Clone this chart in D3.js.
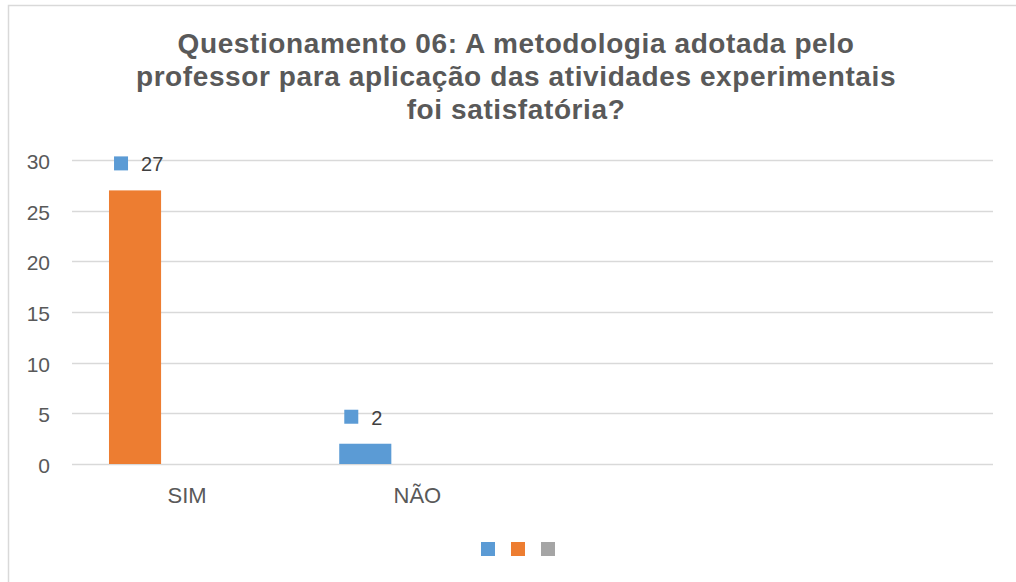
<!DOCTYPE html>
<html>
<head>
<meta charset="utf-8">
<script src="https://cdn.jsdelivr.net/npm/d3@7"></script>
<style>
  body { margin: 0; background: #fff; }
  text { font-family: "Liberation Sans", Arial, sans-serif; }
</style>
</head>
<body>
<svg id="chart" width="1016" height="582"></svg>
<script>
// data
const categories = ["SIM", "NÃO", "", ""];
const values = [27, 2, null, null];
const barColors = ["#ed7d31", "#5b9bd5", "#a5a5a5", "#a5a5a5"];
const legendColors = ["#5b9bd5", "#ed7d31", "#a5a5a5"];
const yTicks = [0, 5, 10, 15, 20, 25, 30];
const titleLines = [
  "Questionamento 06: A metodologia adotada pelo",
  "professor para aplicação das atividades experimentais",
  "foi satisfatória?"
];

const svg = d3.select("#chart");
const W = 1016, H = 582;
const margin = { left: 72, right: 23, top: 160, bottom: 118 };

// chart frame
svg.append("rect")
  .attr("x", 8.5).attr("y", 5.5)
  .attr("width", W + 20).attr("height", H + 20)
  .attr("fill", "#fff")
  .attr("stroke", "#d9d9d9")
  .attr("stroke-width", 1.5);

// title
svg.append("g")
  .selectAll("text")
  .data(titleLines)
  .join("text")
  .attr("x", 516)
  .attr("y", (d, i) => 53 + i * 33)
  .attr("text-anchor", "middle")
  .attr("font-size", "28px")
  .attr("letter-spacing", "0.6px")
  .attr("font-weight", "bold")
  .attr("fill", "#595959")
  .text(d => d);

const x = d3.scaleBand()
  .domain(d3.range(categories.length))
  .range([margin.left, W - margin.right]);

const y = d3.scaleLinear()
  .domain([0, 30])
  .range([H - margin.bottom, margin.top]);

// bars sit in the first of three cluster slots
const slot = d3.scaleBand()
  .domain([0, 1, 2])
  .range([0, x.bandwidth()])
  .paddingOuter(0.71)
  .paddingInner(0);

// gridlines
svg.append("g")
  .selectAll("line")
  .data(yTicks)
  .join("line")
  .attr("x1", margin.left)
  .attr("x2", W - margin.right)
  .attr("y1", d => Math.round(y(d)) + 0.5)
  .attr("y2", d => Math.round(y(d)) + 0.5)
  .attr("stroke", "#d9d9d9")
  .attr("stroke-width", 1.5);

// y tick labels
svg.append("g")
  .selectAll("text")
  .data(yTicks)
  .join("text")
  .attr("x", 50)
  .attr("y", d => y(d) + 9)
  .attr("text-anchor", "end")
  .attr("font-size", "21px")
  .attr("fill", "#595959")
  .text(d => d);

// category labels
svg.append("g")
  .selectAll("text")
  .data(categories)
  .join("text")
  .attr("x", (d, i) => x(i) + x.bandwidth() / 2)
  .attr("y", 503)
  .attr("text-anchor", "middle")
  .attr("font-size", "22px")
  .attr("fill", "#595959")
  .text(d => d);

const barData = values
  .map((v, i) => ({ i, v, cat: categories[i], color: barColors[i] }))
  .filter(d => d.v != null);

// bars
svg.append("g")
  .selectAll("rect")
  .data(barData)
  .join("rect")
  .attr("x", d => x(d.i) + slot(0))
  .attr("y", d => y(d.v))
  .attr("width", slot.bandwidth())
  .attr("height", d => y(0) - y(d.v))
  .attr("fill", d => d.color);

// data labels with legend key
const lab = svg.append("g")
  .selectAll("g")
  .data(barData)
  .join("g")
  .attr("transform", d => `translate(${x(d.i) + slot(0) + slot.bandwidth() / 2},${y(d.v) - 27})`);

lab.append("rect")
  .attr("x", -21).attr("y", -7)
  .attr("width", 14).attr("height", 14)
  .attr("fill", legendColors[0]);

lab.append("text")
  .attr("x", 6)
  .attr("y", 8)
  .attr("font-size", "20px")
  .attr("fill", "#404040")
  .text(d => d.v);

// legend (keys only)
svg.append("g")
  .selectAll("rect")
  .data(legendColors)
  .join("rect")
  .attr("x", (d, i) => 481 + i * 30)
  .attr("y", 542)
  .attr("width", 14)
  .attr("height", 14)
  .attr("fill", d => d);
</script>
</body>
</html>
